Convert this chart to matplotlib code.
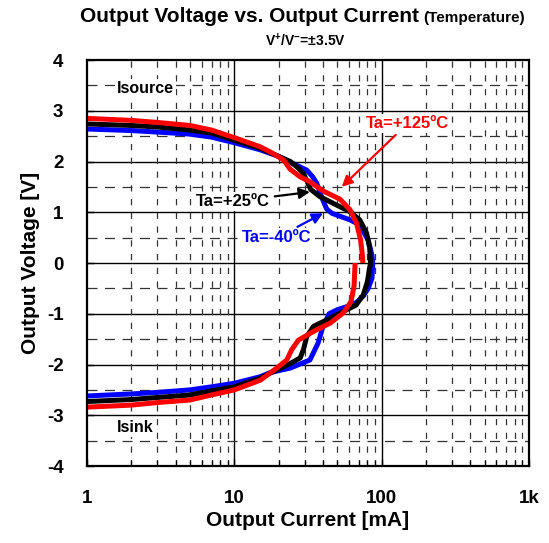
import matplotlib.pyplot as plt
import numpy as np

plt.rcParams['font.family'] = ['Liberation Sans', 'DejaVu Sans']
plt.rcParams['font.weight'] = 'bold'
plt.rcParams['axes.labelweight'] = 'bold'
plt.rcParams['axes.unicode_minus'] = False
plt.rcParams['mathtext.fontset'] = 'custom'
plt.rcParams['mathtext.rm'] = 'Liberation Sans:bold'
plt.rcParams['mathtext.bf'] = 'Liberation Sans:bold'

# source side (positive output voltage), current in mA
src_i_m40 = [1, 2, 3, 5, 7, 10, 15, 20, 25, 31, 34, 36.3, 39, 42.4, 46, 50, 61, 71, 81, 86, 87]
src_v_m40 = [2.64, 2.61, 2.58, 2.54, 2.48, 2.37, 2.23, 2.10, 1.96, 1.83, 1.70, 1.57, 1.31,
             1.06, 0.98, 0.94, 0.85, 0.75, 0.45, 0.15, 0.0]
src_i_25 = [1, 2, 3, 5, 7, 10, 15, 20, 24, 27, 29.4, 31.5, 33, 38, 49.6, 61, 71, 79, 83, 84]
src_v_25 = [2.74, 2.71, 2.68, 2.62, 2.56, 2.42, 2.26, 2.10, 2.00, 1.88, 1.77, 1.58, 1.45,
            1.31, 1.14, 1.01, 0.85, 0.59, 0.30, 0.0]
src_i_125 = [1, 2, 3, 5, 7, 10, 15, 17.5, 20, 21.6, 23.9, 27.9, 32.6, 40, 52, 61, 67.6, 72,
             74, 74.5]
src_v_125 = [2.85, 2.81, 2.77, 2.71, 2.62, 2.47, 2.29, 2.19, 2.09, 2.03, 1.85, 1.70, 1.60,
             1.42, 1.26, 1.05, 0.78, 0.45, 0.15, 0.0]

# sink side (negative output voltage)
snk_i_m40 = [87, 86, 81, 75, 68, 61, 50, 44, 40, 37, 32.6, 24, 17.5, 15, 10, 7, 5, 3, 2, 1]
snk_v_m40 = [0.0, -0.30, -0.50, -0.65, -0.77, -0.84, -0.92, -1.0, -1.25, -1.58, -1.91,
             -2.07, -2.16, -2.24, -2.37, -2.44, -2.50, -2.55, -2.58, -2.62]
snk_i_25 = [84, 80, 75, 67, 58, 44.6, 34.4, 31, 29.5, 28, 24, 17.5, 15, 10, 7, 5, 3, 2, 1]
snk_v_25 = [0.0, -0.37, -0.63, -0.83, -0.92, -1.09, -1.25, -1.45, -1.70, -1.87, -1.98,
            -2.17, -2.27, -2.44, -2.52, -2.60, -2.65, -2.69, -2.73]
snk_i_125 = [66, 65, 62, 55, 45, 34.4, 27.2, 24.5, 22.7, 19.4, 15, 10, 7, 5, 3, 2, 1]
snk_v_125 = [0.0, -0.45, -0.76, -0.98, -1.18, -1.35, -1.52, -1.71, -1.91, -2.07, -2.31,
             -2.50, -2.60, -2.70, -2.75, -2.80, -2.84]

x_ticks = [1, 10, 100, 1000]
x_ticklabels = ['1', '10', '100', '1k']
y_ticks = [-4, -3, -2, -1, 0, 1, 2, 3, 4]

fig = plt.figure(figsize=(5.49, 5.43), dpi=100)
ax = fig.add_axes([0.1585, 0.1418, 0.805, 0.7477])

ax.set_xscale('log')
ax.set_xlim(1, 1000)
ax.set_ylim(-4, 4)

# grid: solid at decades / whole volts, dashed in between
for xv in x_ticks[1:-1]:
    ax.axvline(xv, color='black', lw=1.0, zorder=1)
for yv in y_ticks[1:-1]:
    ax.axhline(yv, color='black', lw=1.0, zorder=1)
for dec in [1, 10, 100]:
    for m in range(2, 10):
        ax.axvline(dec * m, color='#333333', lw=0.9, ls=(0, (5, 6)), zorder=1)
for yv in np.arange(-3.5, 4, 1.0):
    ax.axhline(yv, color='#333333', lw=0.9, ls=(0, (8, 6)), zorder=1)

line_kw = dict(lw=3.6, solid_capstyle='butt', solid_joinstyle='round')
ax.plot(src_i_m40, src_v_m40, color='#0000ff', zorder=3, **line_kw)
ax.plot(snk_i_m40, snk_v_m40, color='#0000ff', zorder=3, **line_kw)
ax.plot(src_i_25, src_v_25, color='black', zorder=4, **line_kw)
ax.plot(snk_i_25, snk_v_25, color='black', zorder=4, **line_kw)
ax.plot(src_i_125, src_v_125, color='#ff0000', zorder=5, **line_kw)
ax.plot(snk_i_125, snk_v_125, color='#ff0000', zorder=5, **line_kw)

box = dict(facecolor='white', edgecolor='none', pad=1.5)
ax.text(1.59, 3.43, 'Isource', fontsize=11.5, va='center', ha='left', bbox=box, zorder=6)
ax.text(1.59, -3.24, 'Isink', fontsize=11.5, va='center', ha='left', bbox=box, zorder=6)

arrow_kw = dict(arrowstyle='-|>', lw=1.6, mutation_scale=16, shrinkA=2, shrinkB=0)
ax.annotate('Ta=+25ºC', xy=(32.6, 1.40), xytext=(9.8, 1.21), fontsize=12, color='black',
            va='center', ha='center', bbox=box, zorder=7,
            arrowprops=dict(color='black', **arrow_kw))
ax.annotate('Ta=-40ºC', xy=(40, 0.98), xytext=(19.5, 0.50), fontsize=12, color='#0000ff',
            va='center', ha='center', bbox=box, zorder=7,
            arrowprops=dict(color='#0000ff', **arrow_kw))
ax.annotate('Ta=+125ºC', xy=(53.6, 1.50), xytext=(150, 2.75), fontsize=12, color='#ff0000',
            va='center', ha='center', bbox=box, zorder=7,
            arrowprops=dict(color='#ff0000', **arrow_kw))

ax.set_xticks(x_ticks)
ax.set_xticklabels(x_ticklabels)
ax.set_yticks(y_ticks)
ax.tick_params(axis='both', which='major', direction='in', length=5, width=1.0,
               labelsize=13.5, pad=17)
ax.tick_params(axis='x', which='minor', direction='in', length=4, width=0.9)
ax.tick_params(axis='x', which='minor', labelbottom=False)
for sp in ax.spines.values():
    sp.set_linewidth(1.6)
    sp.set_zorder(8)

ax.set_xlabel('Output Current [mA]', fontsize=15, labelpad=3)
ax.set_ylabel('Output Voltage [V]', fontsize=15, labelpad=5)

title = fig.text(0.1457, 0.9595, 'Output Voltage vs. Output Current', fontsize=15,
                 ha='left', va='baseline')
fig.canvas.draw()
tb = title.get_window_extent().transformed(fig.transFigure.inverted())
fig.text(tb.x1 + 0.008, 0.9595, '(Temperature)', fontsize=11, ha='left', va='baseline')
fig.text(0.556, 0.915, r'V$^{+}$/V$^{-}$=±3.5V', fontsize=10, ha='center', va='baseline')

fig.savefig('out.png', dpi=100)
